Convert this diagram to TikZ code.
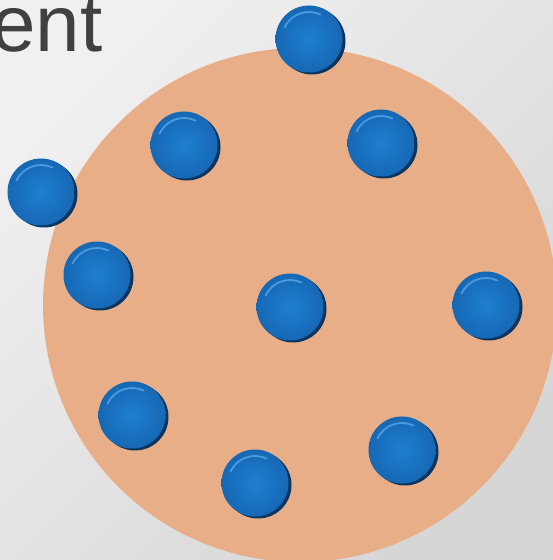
\documentclass[tikz,border=0pt]{standalone}
\usepackage{fontspec}
\setmainfont{Liberation Sans}
\usetikzlibrary{shadows}
\definecolor{bgA}{HTML}{F0F0F0}
\definecolor{bgC}{HTML}{D6D6D6}
\definecolor{cellc}{HTML}{E8AE88}
\definecolor{ballin}{HTML}{1F7ED2}
\definecolor{ballout}{HTML}{1668B4}
\definecolor{ballrim}{HTML}{0A3560}
\definecolor{ballhi}{HTML}{4A9BE0}
\definecolor{txt}{HTML}{404040}
\tikzset{
  ballnode/.style={circle, inner sep=0pt, minimum size=67pt,
    inner color=ballin, outer color=ballout,
    general shadow={fill=ballrim, shadow xshift=3pt, shadow yshift=-2pt, shadow scale=1.0},
    path picture={\draw[ballhi, line width=1.8pt, line cap=round]
      ([shift={(155:27pt)}]path picture bounding box.center) arc[start angle=155, end angle=65, radius=27pt];}},
  cellstyle/.style={fill=cellc},
  title/.style={anchor=base west, inner sep=0pt, text=txt, font=\fontsize{80}{80}\selectfont}
}
\begin{document}
\begin{tikzpicture}[x=1pt,y=1pt]
\useasboundingbox (0,0) rectangle (553,560);
\shade[top color=bgA, bottom color=bgC, shading angle=45] (0,0) rectangle (553,560);
\node[title] (t) at (-9,508) {ent};
\fill[cellstyle] (300,255) circle[radius=257];
\node[ballnode] (b1) at (309,521) {};
\node[ballnode] (b2) at (184,415) {};
\node[ballnode] (b3) at (381,417) {};
\node[ballnode] (b4) at (41,368) {};
\node[ballnode] (b5) at (97,285) {};
\node[ballnode] (b6) at (290,253) {};
\node[ballnode] (b7) at (486,255) {};
\node[ballnode] (b8) at (132,145) {};
\node[ballnode] (b9) at (402,110) {};
\node[ballnode] (b10) at (255,77) {};
\end{tikzpicture}
\end{document}
